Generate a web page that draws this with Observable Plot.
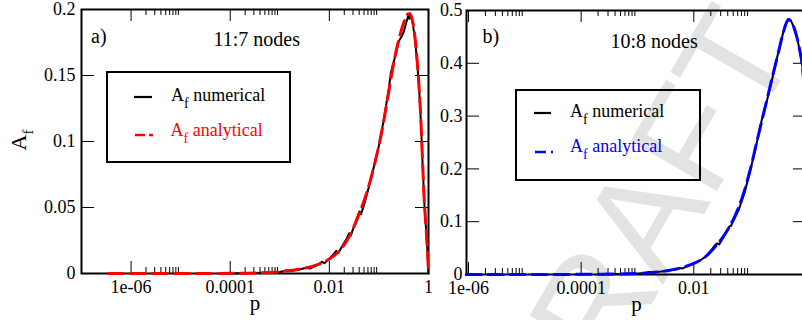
<!DOCTYPE html>
<html><head><meta charset="utf-8">
<script src="https://cdn.jsdelivr.net/npm/d3@7"></script>
<script src="https://cdn.jsdelivr.net/npm/@observablehq/plot@0.6"></script>
<style>
body{margin:0;background:#fff;}
#wrap{position:relative;width:802px;height:320px;overflow:hidden;background:#fff;font-family:"Liberation Serif",serif;}
.lg{position:absolute;box-sizing:border-box;border:2px solid #000;z-index:5;}
.t{position:absolute;font-size:18px;line-height:18px;white-space:nowrap;z-index:5;}
.t sub{vertical-align:baseline;position:relative;top:7px;font-size:14px;line-height:0;}
.sw{position:absolute;overflow:visible;z-index:5;}
.yl{position:absolute;font-size:22px;line-height:22px;white-space:nowrap;transform:translate(-50%,-50%) rotate(-90deg);z-index:5;}
.yl sub{vertical-align:baseline;position:relative;top:7px;font-size:15px;line-height:0;}
</style></head><body>
<div id="wrap">
  <div class="yl" style="left:19px;top:140px;">A<sub>f</sub></div>
  <div class="lg" style="left:106px;top:71px;width:185px;height:92px;"></div>
  <svg class="sw" style="left:130px;top:90px" width="30" height="14"><line x1="4" x2="22" y1="7" y2="7" stroke="#000" stroke-width="2.2"/></svg>
  <div class="t" style="left:171px;top:85.6px;color:#000">A<sub>f</sub> numerical</div>
  <svg class="sw" style="left:131px;top:128px" width="30" height="14"><line x1="4" x2="22" y1="7" y2="7" stroke="#f00" stroke-width="2.6" stroke-dasharray="10,4"/></svg>
  <div class="t" style="left:170.5px;top:121px;color:#f00">A<sub>f</sub> analytical</div>

  <div class="lg" style="left:515px;top:89px;width:186px;height:92px;"></div>
  <svg class="sw" style="left:530px;top:106.3px" width="30" height="14"><line x1="4" x2="21" y1="7" y2="7" stroke="#000" stroke-width="2.2"/></svg>
  <div class="t" style="left:570px;top:101.6px;color:#000">A<sub>f</sub> numerical</div>
  <svg class="sw" style="left:531px;top:144.7px" width="30" height="14"><line x1="4" x2="22" y1="7" y2="7" stroke="#00f" stroke-width="2.6" stroke-dasharray="11,5"/></svg>
  <div class="t" style="left:570px;top:136.6px;color:#00f">A<sub>f</sub> analytical</div>
</div>
<script>
// ---- Panel a) 11:7 nodes : log10(p) and A_f ----
const leftNumLogP = [-4.0, -3.5, -3.2, -3.0, -2.85, -2.8, -2.6, -2.45, -2.4, -2.25, -2.15, -2.1, -2.0, -1.9, -1.86, -1.82, -1.75, -1.65, -1.6, -1.57, -1.5, -1.42, -1.39, -1.36, -1.3, -1.2, -1.1, -1.0, -0.9, -0.8, -0.76, -0.72, -0.66, -0.6, -0.55, -0.5, -0.45, -0.41, -0.39, -0.37, -0.32, -0.27, -0.22, -0.18, -0.15, -0.12, -0.085, -0.05, -0.02, 0];
const leftNumA = [0, 0.0003, 0.0008, 0.0012, 0.0024, 0.0016, 0.003, 0.0046, 0.0038, 0.0062, 0.0088, 0.0078, 0.0112, 0.0152, 0.0172, 0.0155, 0.02, 0.0265, 0.0305, 0.0285, 0.036, 0.0445, 0.047, 0.045, 0.052, 0.066, 0.081, 0.097, 0.117, 0.14, 0.152, 0.158, 0.166, 0.176, 0.179, 0.183, 0.19, 0.195, 0.193, 0.197, 0.19, 0.177, 0.156, 0.134, 0.112, 0.084, 0.054, 0.034, 0.016, 0];
const leftAnaLogP = [-6.46, -5.5, -4.5, -4.0, -3.5, -3.0, -2.75, -2.5, -2.25, -2.0, -1.8, -1.6, -1.4, -1.2, -1.0, -0.9, -0.8, -0.7, -0.6, -0.5, -0.42, -0.37, -0.32, -0.27, -0.22, -0.18, -0.15, -0.12, -0.085, -0.05, -0.02, 0];
const leftAnaA = [0, 0, 0, 0.0001, 0.0004, 0.0013, 0.0025, 0.004, 0.0065, 0.011, 0.017, 0.028, 0.045, 0.067, 0.097, 0.116, 0.138, 0.160, 0.177, 0.190, 0.1965, 0.1965, 0.191, 0.178, 0.157, 0.135, 0.113, 0.085, 0.055, 0.035, 0.017, 0];

// ---- Panel b) 10:8 nodes ----
const rightNumLogP = [-3.5, -3.0, -2.85, -2.8, -2.75, -2.5, -2.3, -2.25, -2.2, -2.1, -2.0, -1.9, -1.8, -1.7, -1.62, -1.58, -1.55, -1.5, -1.42, -1.37, -1.34, -1.3, -1.2, -1.1, -1.0, -0.9, -0.8, -0.75, -0.7, -0.6, -0.5, -0.45, -0.4, -0.35, -0.32, -0.28, -0.22, -0.17, -0.12, -0.07, -0.04, -0.02, 0];
const rightNumA = [0.0005, 0.002, 0.003, 0.0048, 0.0035, 0.0068, 0.010, 0.0125, 0.0115, 0.016, 0.021, 0.026, 0.033, 0.045, 0.056, 0.059, 0.057, 0.066, 0.081, 0.091, 0.092, 0.101, 0.123, 0.155, 0.196, 0.241, 0.29, 0.312, 0.33, 0.374, 0.421, 0.443, 0.463, 0.478, 0.484, 0.481, 0.468, 0.45, 0.424, 0.392, 0.33, 0.22, 0];
const rightAnaLogP = [-6.04, -5, -4.5, -4, -3.5, -3.0, -2.75, -2.5, -2.25, -2.0, -1.8, -1.6, -1.45, -1.3, -1.15, -1.0, -0.9, -0.8, -0.7, -0.6, -0.5, -0.42, -0.36, -0.32, -0.27, -0.22, -0.17, -0.12, -0.07, -0.04, -0.02, 0];
const rightAnaA = [0, 0, 0.0001, 0.0003, 0.0008, 0.002, 0.004, 0.0068, 0.012, 0.021, 0.033, 0.055, 0.076, 0.104, 0.143, 0.198, 0.243, 0.288, 0.332, 0.377, 0.42, 0.455, 0.476, 0.483, 0.479, 0.467, 0.449, 0.425, 0.393, 0.33, 0.22, 0];

// ---- ticks ----
const xMajor = [1e-6, 1e-4, 1e-2, 1];
const xMajorLabels = ["1e-06", "0.0001", "0.01", "1"];
const xMinor = [2e-6, 3e-6, 4e-6, 5e-6, 6e-6, 7e-6, 8e-6, 9e-6, 2e-4, 3e-4, 4e-4, 5e-4, 6e-4, 7e-4, 8e-4, 9e-4, 2e-2, 3e-2, 4e-2, 5e-2, 6e-2, 7e-2, 8e-2, 9e-2];
const yTicksL = [0, 0.05, 0.1, 0.15, 0.2];
const yLabelsL = ["0", "0.05", "0.1", "0.15", "0.2"];
const yTicksR = [0, 0.1, 0.2, 0.3, 0.4, 0.5];
const yLabelsR = ["0", "0.1", "0.2", "0.3", "0.4", "0.5"];
const titleL = ["a)", "11:7 nodes"];
const titleR = ["b)", "10:8 nodes"];
const watermark = ["DRAFT"];

const toRows = (lp, a) => lp.map((v, i) => ({p: Math.pow(10, v), A: a[i]}));
const leftNum = toRows(leftNumLogP, leftNumA);
const leftAna = toRows(leftAnaLogP, leftAnaA);
const rightNum = toRows(rightNumLogP, rightNumA);
const rightAna = toRows(rightAnaLogP, rightAnaA);

const xLabMap = new Map(xMajor.map((d, i) => [d, xMajorLabels[i]]));
const yLabMapL = new Map(yTicksL.map((d, i) => [d, yLabelsL[i]]));
const yLabMapR = new Map(yTicksR.map((d, i) => [d, yLabelsR[i]]));

const serif = "'Liberation Serif', serif";
const baseStyle = {background: "transparent", fontFamily: serif, fontSize: "18px", color: "#000", overflow: "visible"};

function frameTicks(innerW, innerH, xMaj, xMin, yT) {
  return [
    Plot.tickX(xMaj, {x: d => d, insetTop: innerH - 12, stroke: "#000", strokeWidth: 1}),
    Plot.tickX(xMaj, {x: d => d, insetBottom: innerH - 12, stroke: "#000", strokeWidth: 1}),
    Plot.tickX(xMin, {x: d => d, insetTop: innerH - 6, stroke: "#000", strokeWidth: 1}),
    Plot.tickX(xMin, {x: d => d, insetBottom: innerH - 6, stroke: "#000", strokeWidth: 1}),
    Plot.tickY(yT, {y: d => d, insetRight: innerW - 13, stroke: "#000", strokeWidth: 1}),
    Plot.tickY(yT, {y: d => d, insetLeft: innerW - 13, stroke: "#000", strokeWidth: 1})
  ];
}

// Left panel
const WL = 440, HL = 320, mlL = 81, mrL = 12, mtL = 9, mbL = 47;
const left = Plot.plot({
  width: WL, height: HL, marginLeft: mlL, marginRight: mrL, marginTop: mtL, marginBottom: mbL,
  x: {type: "log", domain: [1e-7, 1]},
  y: {domain: [0, 0.2]},
  style: baseStyle,
  marks: [
    Plot.frame({stroke: "#000", strokeWidth: 2}),
    ...frameTicks(WL - mlL - mrL, HL - mtL - mbL, xMajor, xMinor, yTicksL),
    Plot.axisX({ticks: xMajor, tickFormat: d => xLabMap.get(d), tickSize: 0, tickPadding: 7, label: null, fontSize: 18, fontFamily: serif}),
    Plot.axisY({ticks: yTicksL, tickFormat: d => yLabMapL.get(d), tickSize: 0, tickPadding: 6, label: null, fontSize: 18, fontFamily: serif}),
    Plot.line(leftNum, {x: "p", y: "A", stroke: "#000", strokeWidth: 2}),
    Plot.line(leftAna, {x: "p", y: "A", stroke: "#f00", strokeWidth: 3, strokeDasharray: "15,7", curve: "catmull-rom"}),
    Plot.text([titleL[0]], {text: d => d, frameAnchor: "top-left", lineAnchor: "middle", dx: 9.5, dy: 26.6, fontSize: 20, fontFamily: serif, textAnchor: "start"}),
    Plot.text([titleL[1]], {text: d => d, frameAnchor: "top-left", lineAnchor: "middle", dx: 132, dy: 29.6, fontSize: 20, fontFamily: serif, textAnchor: "start"}),
    Plot.text(["p"], {text: d => d, frameAnchor: "bottom", lineAnchor: "middle", dy: 30, fontSize: 21, fontFamily: serif})
  ]
});
left.style.position = "absolute"; left.style.left = "0px"; left.style.top = "0px";

// Right panel
const WR = 386, HR = 320, mlR = 36, mrR = 10, mtR = 10, mbR = 46;
const right = Plot.plot({
  width: WR, height: HR, marginLeft: mlR, marginRight: mrR, marginTop: mtR, marginBottom: mbR,
  x: {type: "log", domain: [Math.pow(10, -6.035), 1]},
  y: {domain: [0, 0.5]},
  style: baseStyle,
  marks: [
    Plot.text(watermark, {text: d => d, frameAnchor: "bottom-left", lineAnchor: "bottom", dx: 91.5, dy: 192, rotate: -60, fontSize: 145, fontFamily: "'Liberation Sans', sans-serif", fill: "#e3e3e3", textAnchor: "start"}),
    Plot.frame({stroke: "#000", strokeWidth: 2}),
    ...frameTicks(WR - mlR - mrR, HR - mtR - mbR, xMajor, xMinor, yTicksR),
    Plot.axisX({ticks: xMajor, tickFormat: d => xLabMap.get(d), tickSize: 0, tickPadding: 7, label: null, fontSize: 18, fontFamily: serif}),
    Plot.axisY({ticks: yTicksR, tickFormat: d => yLabMapR.get(d), tickSize: 0, tickPadding: 4, label: null, fontSize: 18, fontFamily: serif}),
    Plot.line(rightNum, {x: "p", y: "A", stroke: "#000", strokeWidth: 2}),
    Plot.line(rightAna, {x: "p", y: "A", stroke: "#00f", strokeWidth: 3, strokeDasharray: "15,7", curve: "catmull-rom"}),
    Plot.text([titleR[0]], {text: d => d, frameAnchor: "top-left", lineAnchor: "middle", dx: 16, dy: 25.6, fontSize: 20, fontFamily: serif, textAnchor: "start"}),
    Plot.text([titleR[1]], {text: d => d, frameAnchor: "top-left", lineAnchor: "middle", dx: 144, dy: 31, fontSize: 20, fontFamily: serif, textAnchor: "start"}),
    Plot.text(["p"], {text: d => d, frameAnchor: "bottom", lineAnchor: "middle", dy: 30, fontSize: 21, fontFamily: serif})
  ]
});
right.style.position = "absolute"; right.style.left = "430px"; right.style.top = "0px";

const wrap = document.getElementById("wrap");
wrap.insertBefore(right, wrap.firstChild);
wrap.insertBefore(left, wrap.firstChild);
</script>
</body></html>
